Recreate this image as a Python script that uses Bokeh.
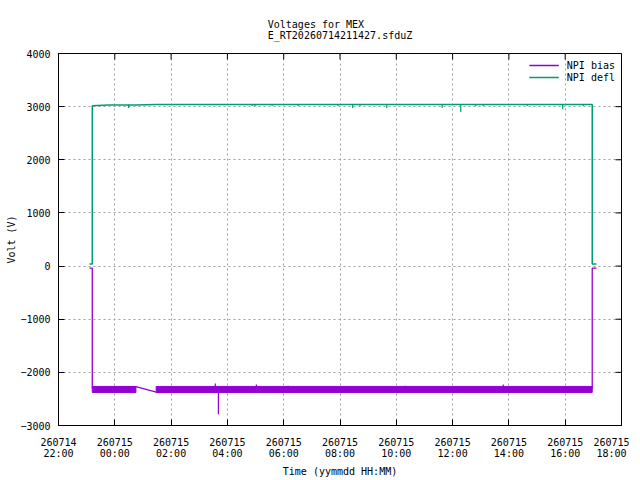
from bokeh.plotting import figure
from bokeh.models import FixedTicker, Legend, LegendItem, Range1d
from bokeh.embed import file_html
from bokeh.resources import INLINE

# ---- data (x = hours since 260714 00:00) ----
x_ticks = [22, 24, 26, 28, 30, 32, 34, 36, 38, 40, 42]
x_tick_labels = ["260714\n22:00", "260715\n00:00", "260715\n02:00", "260715\n04:00",
                 "260715\n06:00", "260715\n08:00", "260715\n10:00", "260715\n12:00",
                 "260715\n14:00", "260715\n16:00", "260715\n18:00"]
y_ticks = [-3000, -2000, -1000, 0, 1000, 2000, 3000, 4000]

# NPI bias: main trace
bias_time = [23.10, 23.20, 23.20, 24.75, 25.47, 40.96, 40.96, 41.11]
bias_volt = [-40, -40, -2300, -2268, -2372, -2300, -40, -40]
# NPI bias: dense noisy readings (min/max envelope of each sampled stretch)
bias_band_start = [23.20, 25.47]
bias_band_end = [24.75, 40.96]
bias_band_low = [-2378, -2378]
bias_band_high = [-2265, -2265]
bias_band_mid = -2320
# NPI bias: isolated outlier readings
bias_spike_time = [27.57, 27.68, 29.03, 30.16, 34.32, 37.80]
bias_spike_volt = [-2210, -2790, -2230, -2250, -2250, -2230]

# NPI defl: main trace
defl_time = [23.10, 23.20, 23.20, 23.78, 24.75, 25.47, 40.96, 40.96, 41.11]
defl_volt = [40, 40, 3015, 3030, 3030, 3040, 3040, 40, 40]
defl_level = 3040
# NPI defl: isolated low readings
defl_spike_time = [24.49, 28.88, 28.98, 29.59, 30.51, 31.93, 32.45, 32.71, 33.66,
                   35.63, 36.29, 36.82, 37.09, 38.65, 39.91, 40.64]
defl_spike_volt = [2975, 3010, 3010, 3010, 3010, 3010, 2975, 3010, 2975,
                   2975, 2900, 3010, 3010, 3010, 2950, 3010]

BIAS_COLOR = "#9400D3"
DEFL_COLOR = "#009E73"
FONT = "DejaVu Sans Mono"
FS = "10px"
X0, X1, Y0, Y1 = 22, 42, -3000, 4000
FW, FH = 563, 372
TICK = 6  # px

p = figure(frame_width=FW, frame_height=FH, x_range=Range1d(X0, X1), y_range=Range1d(Y0, Y1),
           output_backend="svg", toolbar_location=None,
           min_border_left=58, min_border_right=8, min_border_top=53, min_border_bottom=47)

p.title.text = "Voltages for MEX\nE_RT20260714211427.sfduZ"
p.title.align = "center"
p.title.text_font = FONT
p.title.text_font_size = FS
p.title.text_font_style = "normal"
p.title.text_color = "black"
p.title.standoff = 26

p.outline_line_color = "black"
p.outline_line_width = 1

xt = FixedTicker(ticks=x_ticks)
yt = FixedTicker(ticks=y_ticks)
p.xaxis.ticker = xt
p.yaxis.ticker = yt
p.xaxis.major_label_overrides = {t: l for t, l in zip(x_ticks, x_tick_labels)}
p.xaxis.axis_label = "Time (yymmdd HH:MM)"
p.yaxis.axis_label = "Volt (V)"
for ax in (p.xaxis, p.yaxis):
    ax.major_tick_in = TICK
    ax.major_tick_out = 0
    ax.minor_tick_line_color = None
    ax.axis_line_color = "black"
    ax.major_tick_line_color = "black"
    ax.major_label_text_font = FONT
    ax.major_label_text_font_size = FS
    ax.major_label_text_color = "black"
    ax.major_label_text_line_height = 1.0
    ax.axis_label_text_font = FONT
    ax.axis_label_text_font_size = FS
    ax.axis_label_text_font_style = "normal"
    ax.axis_label_text_color = "black"
p.xaxis.major_label_standoff = 11
p.xaxis.axis_label_standoff = 4
p.yaxis.major_label_standoff = 8
p.yaxis.axis_label_standoff = 0

for g in (p.xgrid, p.ygrid):
    g.grid_line_color = "#a0a0a0"
    g.grid_line_dash = "2 3"
    g.grid_line_width = 1

# mirrored inward tick marks on the top and right borders
tx = TICK * (X1 - X0) / FW
ty = TICK * (Y1 - Y0) / FH
p.segment(x0=x_ticks, y0=[Y1] * len(x_ticks), x1=x_ticks, y1=[Y1 - ty] * len(x_ticks),
          line_color="black", line_width=1)
p.segment(x0=[X1] * len(y_ticks), y0=y_ticks, x1=[X1 - tx] * len(y_ticks), y1=y_ticks,
          line_color="black", line_width=1)

# bias
p.quad(left=bias_band_start, right=bias_band_end, bottom=bias_band_low, top=bias_band_high,
       fill_color=BIAS_COLOR, line_color=BIAS_COLOR, line_width=1)
r_bias = p.line(bias_time, bias_volt, line_color=BIAS_COLOR, line_width=1.3)
p.segment(x0=bias_spike_time, y0=[bias_band_mid] * len(bias_spike_time),
          x1=bias_spike_time, y1=bias_spike_volt, line_color=BIAS_COLOR, line_width=1.2)

# defl
r_defl = p.line(defl_time, defl_volt, line_color=DEFL_COLOR, line_width=1.5)
p.segment(x0=defl_spike_time, y0=[defl_level] * len(defl_spike_time),
          x1=defl_spike_time, y1=defl_spike_volt, line_color=DEFL_COLOR, line_width=1.2)

legend = Legend(items=[LegendItem(label="NPI bias", renderers=[r_bias]),
                       LegendItem(label="NPI defl", renderers=[r_defl])],
                location="top_right", margin=6, padding=0, spacing=0,
                label_height=12, glyph_height=12, glyph_width=30, label_standoff=8,
                border_line_color=None, background_fill_alpha=0,
                label_text_font=FONT, label_text_font_size=FS, label_text_color="black")
p.add_layout(legend)

open("out.html", "w").write(file_html(p, INLINE))
